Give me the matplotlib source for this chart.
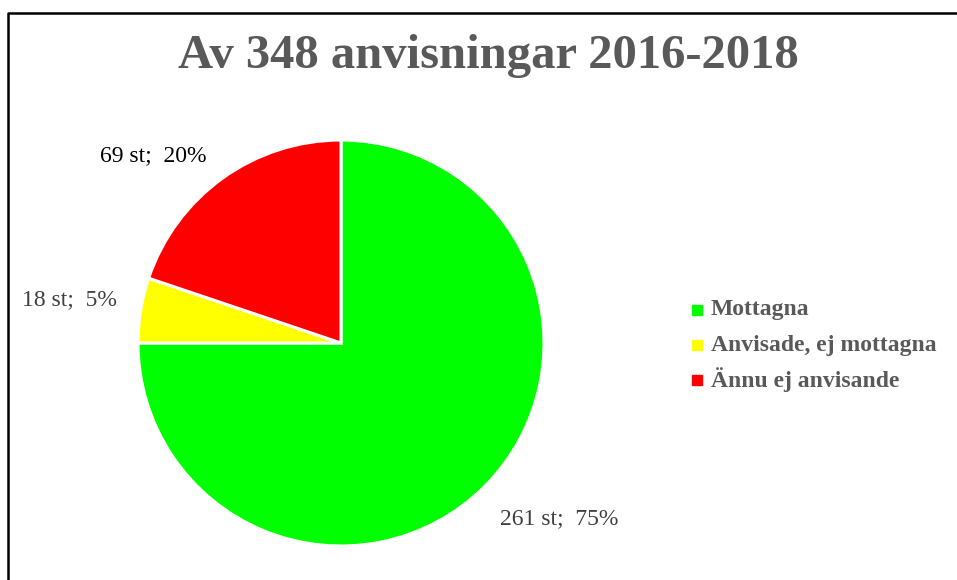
import matplotlib

matplotlib.use("Agg")
import matplotlib.pyplot as plt
from matplotlib.lines import Line2D

plt.rcParams["font.family"] = ["Liberation Serif", "DejaVu Serif"]

TITLE = "Av 348 anvisningar 2016-2018"
categories = ["Mottagna", "Anvisade, ej mottagna", "Ännu ej anvisande"]
counts = [261, 18, 69]
percents = [75, 5, 20]
colors = ["#00ff00", "#ffff00", "#ff0000"]
label_colors = ["#404040", "#404040", "#000000"]
# label anchor (pixel x, y from top) per slice
label_pos = [(500, 519), (22, 300), (100, 156)]

W, H = 957, 580
fig = plt.figure(figsize=(W / 100, H / 100), dpi=100)

# frame line (left and top only, as in the original)
fig.add_artist(Line2D([8 / W, 8 / W, 1.0], [0.0, 1 - 13 / H, 1 - 13 / H],
                      transform=fig.transFigure, color="black", lw=1.8))

cx, cy, r = 341, 343, 203
ax = fig.add_axes([(cx - r) / W, (H - cy - r) / H, 2 * r / W, 2 * r / H])
ax.pie(counts, colors=colors, startangle=90, counterclock=False,
       wedgeprops=dict(edgecolor="white", linewidth=2.2))
ax.set_xlim(-1, 1)
ax.set_ylim(-1, 1)
ax.axis("off")

for n, p, (x, y), c in zip(counts, percents, label_pos, label_colors):
    fig.text(x / W, 1 - y / H, f"{n} st;  {p}%", color=c, fontsize=17,
             ha="left", va="center")

fig.text(0.5 * (180 + 797) / W, 1 - 56 / H, TITLE, ha="center", va="center",
         fontsize=35, fontweight="bold", color="#595959")

for i, (cat, col) in enumerate(zip(categories, colors)):
    y = 1 - (310 + 35 * i) / H
    fig.patches.append(plt.Rectangle((692 / W, y - 5 / H), 10 / W, 10 / H,
                                     transform=fig.transFigure, color=col))
    fig.text(711 / W, y, cat, ha="left", va="center", fontsize=17,
             fontweight="bold", color="#595959")

fig.savefig("out.png", dpi=100, facecolor="white")
